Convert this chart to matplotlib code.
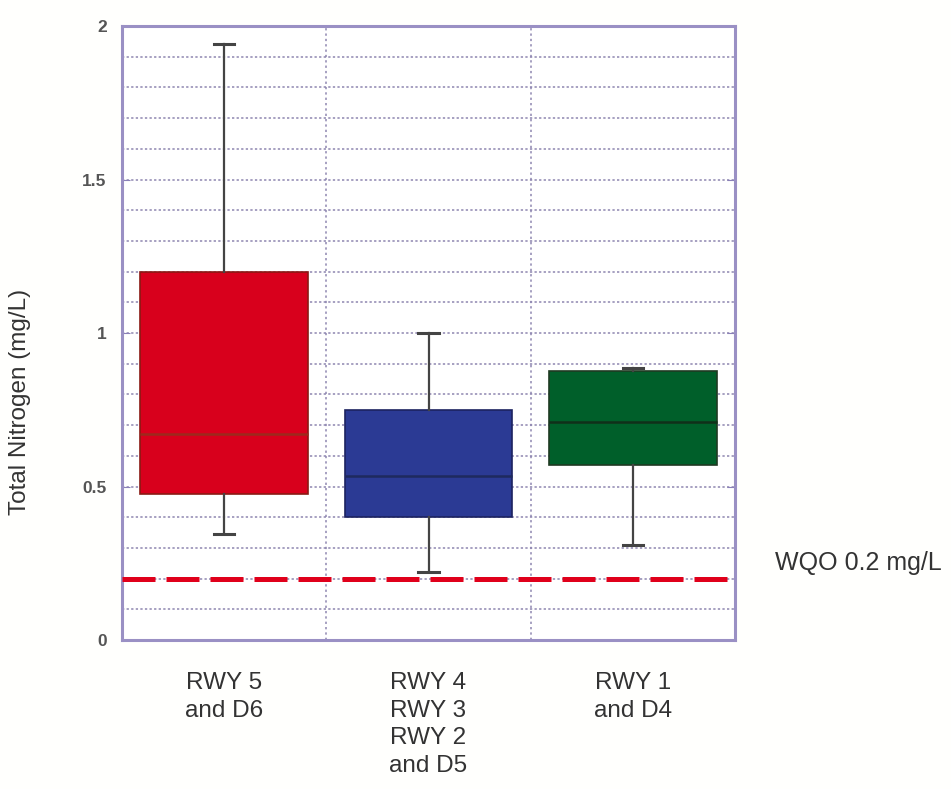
import numpy as np
import matplotlib
matplotlib.use("Agg")
import matplotlib.pyplot as plt
from matplotlib.ticker import MultipleLocator

# values (mg/L)
categories = ["RWY 5\nand D6", "RWY 4\nRWY 3\nRWY 2\nand D5", "RWY 1\nand D4"]
whisker_low = [0.345, 0.22, 0.31]
q1 = [0.475, 0.40, 0.57]
medians = [0.67, 0.535, 0.71]
q3 = [1.20, 0.75, 0.875]
whisker_high = [1.94, 1.00, 0.885]
wqo = 0.2
yticks = [0, 0.5, 1, 1.5, 2]
ytick_labels = ["0", "0.5", "1", "1.5", "2"]

box_colors = ["#d8001c", "#2b3a94", "#005f2a"]
edge_colors = ["#8a1a14", "#1c2360", "#1f3a22"]
median_colors = ["#9c2a1c", "#1e2a5e", "#10301a"]

plt.rcParams['font.family'] = ['Liberation Sans', 'DejaVu Sans']

fig = plt.figure(figsize=(9.51, 7.89), dpi=100)
fig.patch.set_facecolor("#fffffd")
ax = fig.add_axes([0.1283, 0.1888, 0.6446, 0.7782])
ax.set_facecolor("white")

stats = []
for i in range(len(categories)):
    stats.append({"whislo": whisker_low[i], "q1": q1[i], "med": medians[i],
                  "q3": q3[i], "whishi": whisker_high[i], "fliers": []})

pos = np.arange(len(categories))
bp = ax.bxp(stats, positions=pos, widths=0.82, patch_artist=True,
            showfliers=False, capwidths=0.1, zorder=3)
for i, box in enumerate(bp['boxes']):
    box.set_facecolor(box_colors[i])
    box.set_edgecolor(edge_colors[i])
    box.set_linewidth(1.2)
for i, med in enumerate(bp['medians']):
    med.set_color(median_colors[i])
    med.set_linewidth(1.8)
for w in bp['whiskers']:
    w.set_color("#444444")
    w.set_linewidth(1.6)
for c in bp['caps']:
    c.set_color("#444444")
    c.set_linewidth(2.2)

# WQO line
ax.axhline(wqo, color="#e0001b", lw=3.6, dashes=(6.6, 2.2), zorder=4)
ax.text(1.065, wqo + 0.05, "WQO 0.2 mg/L", transform=ax.get_yaxis_transform(),
        fontsize=18, color="#333333", va="center", ha="left")

ax.set_xlim(-0.5, 2.5)
ax.set_ylim(0, 2)
ax.set_yticks(yticks)
ax.set_yticklabels(ytick_labels)
ax.yaxis.set_minor_locator(MultipleLocator(0.1))
ax.tick_params(axis='y', which='major', direction='in', length=6, color="#8a80b8",
               labelsize=12.5, labelcolor="#555555", pad=11, right=True)
ax.tick_params(axis='y', which='minor', length=0)
for lab in ax.get_yticklabels():
    lab.set_fontweight("bold")

ax.grid(True, which='both', axis='y', color="#8e86b0", linestyle=(0, (1.5, 1.5)),
        linewidth=1.1, zorder=1)
for xv in [0.5, 1.5]:
    ax.axvline(xv, color="#8e86b0", linestyle=(0, (1.5, 2)), linewidth=1.1, zorder=1)

ax.set_xticks(pos)
ax.set_xticklabels(categories, fontsize=17.5, color="#333333", va="top",
                   linespacing=1.33)
ax.tick_params(axis='x', length=0, pad=23)

fig.text(20 / 951, 0.49, "Total Nitrogen (mg/L)", fontsize=17.5, color="#333333",
         rotation=90, ha="center", va="center")

for s in ax.spines.values():
    s.set_color("#9a90c4")
    s.set_linewidth(2.2)

fig.savefig("out.png", dpi=100, facecolor=fig.get_facecolor())
